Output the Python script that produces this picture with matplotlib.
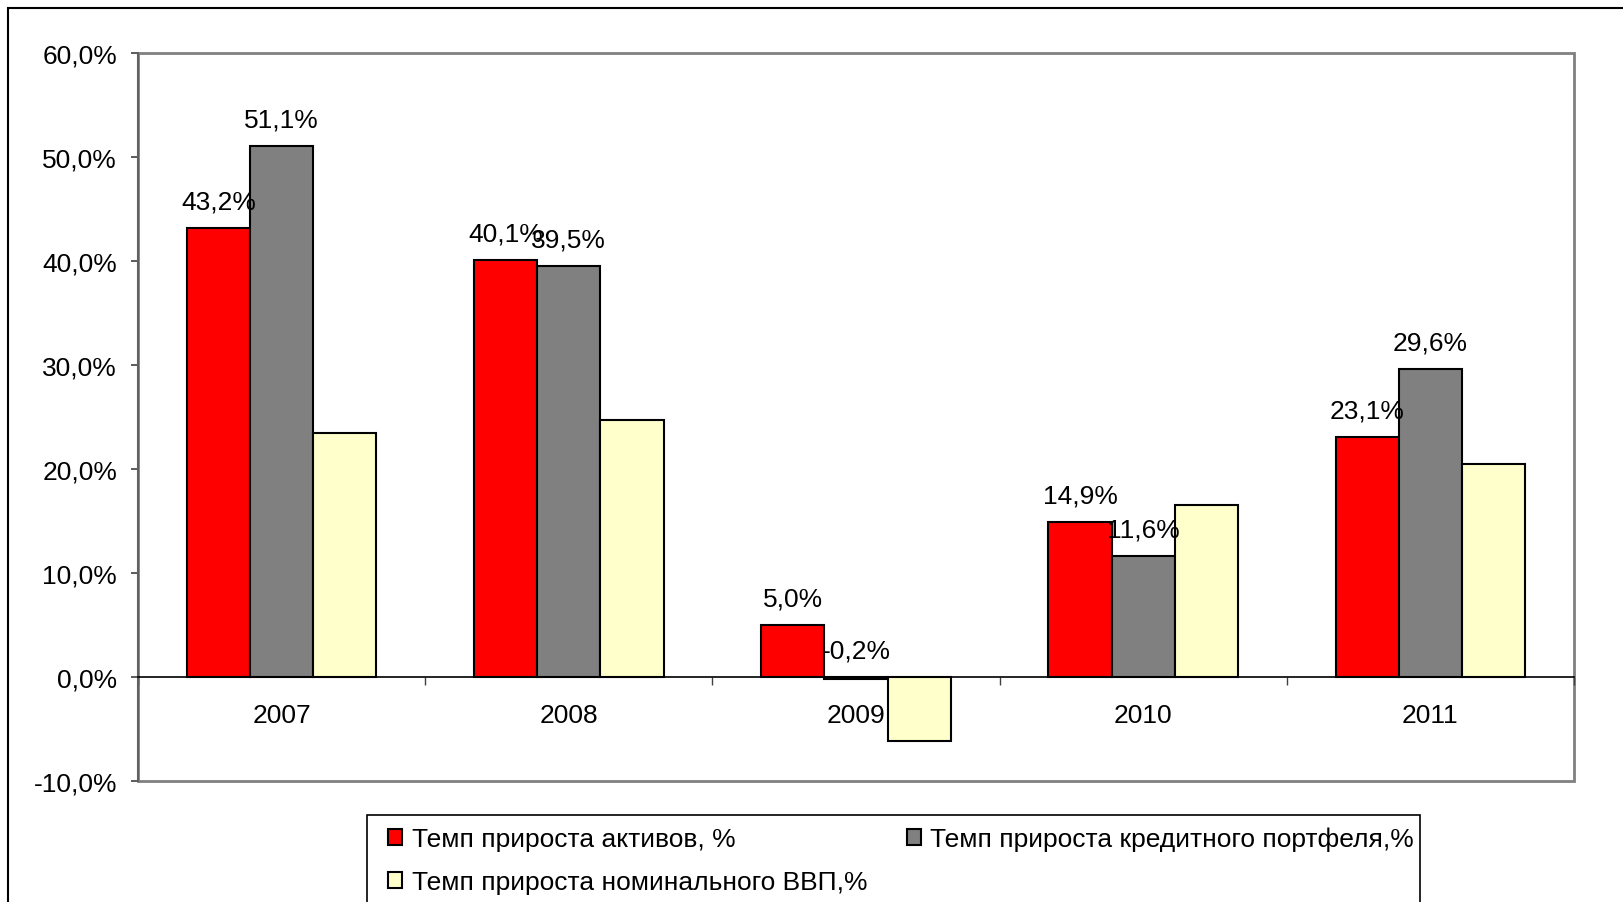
import matplotlib.pyplot as plt
from matplotlib.patches import Rectangle
import numpy as np

plt.rcParams['font.family'] = ['Liberation Sans', 'DejaVu Sans']

# Data
years = ["2007", "2008", "2009", "2010", "2011"]
assets = [43.2, 40.1, 5.0, 14.9, 23.1]
loans = [51.1, 39.5, -0.2, 11.6, 29.6]
gdp = [23.5, 24.7, -6.2, 16.5, 20.5]

series_names = ["Темп прироста активов, %",
                "Темп прироста кредитного портфеля,%",
                "Темп прироста номинального ВВП,%"]
yticks = [-10, 0, 10, 20, 30, 40, 50, 60]

FS = 19
W, H = 1623, 903
fig = plt.figure(figsize=(W / 100, H / 100), dpi=100)
ax = fig.add_axes([138 / W, 1 - 782 / H, (1574 - 138) / W, (782 - 54) / H])

x = np.arange(len(years))
bw = 0.22
b1 = ax.bar(x - bw, assets, bw, color="#ff0000", edgecolor="black", linewidth=1.5, zorder=3)
b2 = ax.bar(x, loans, bw, color="#808080", edgecolor="black", linewidth=1.5, zorder=3)
b3 = ax.bar(x + bw, gdp, bw, color="#ffffcc", edgecolor="black", linewidth=1.5, zorder=3)

def fmt(v):
    return ("%.1f%%" % v).replace(".", ",")

# value labels for the first two series
for bars, vals in ((b1, assets), (b2, loans)):
    for rect, v in zip(bars, vals):
        ax.annotate(fmt(v), (rect.get_x() + rect.get_width() / 2, max(v, 0)),
                    xytext=(0, 19), textcoords="offset points",
                    ha="center", va="center", fontsize=FS, zorder=5)

ax.set_xlim(-0.5, len(years) - 0.5)
ax.set_ylim(-10, 60)
ax.set_yticks(yticks)
ax.set_yticklabels([fmt(t) for t in yticks])

ax.set_xticks(x)
ax.set_xticklabels(years)
ax.set_xticks(np.arange(-0.5, len(years)), minor=True)
ax.tick_params(axis="x", which="major", length=0, pad=19, labelsize=FS)
ax.tick_params(axis="x", which="minor", length=6, width=1, color="#404040", direction="out")
ax.tick_params(axis="y", length=5, width=1.2, color="#404040", pad=10, labelsize=FS)

# category axis sits on zero
ax.spines["bottom"].set_position(("data", 0))
ax.spines["bottom"].set_color("black")
ax.spines["bottom"].set_linewidth(1.2)
ax.spines["bottom"].set_zorder(4)
ax.spines["left"].set_color("#606060")
ax.spines["left"].set_linewidth(1.5)
for s in ("top", "right"):
    ax.spines[s].set_visible(False)

# plot area border
ax.add_patch(Rectangle((0, 0), 1, 1, transform=ax.transAxes, fill=False,
                       edgecolor="#808080", linewidth=2, clip_on=False, zorder=1))

# chart border
fig.patches.append(Rectangle((8 / W, -0.05), 1.1, 1 - 9 / H + 0.05, transform=fig.transFigure,
                             fill=False, edgecolor="black", linewidth=1.5))

# legend box
fig.patches.append(Rectangle((367 / W, -0.05), (1420 - 367) / W, 1 - 816 / H + 0.05,
                             transform=fig.transFigure, fill=False,
                             edgecolor="black", linewidth=1.2))

leg = fig.legend([b1, b3, b2], [series_names[0], series_names[2], series_names[1]],
                 ncol=2, loc="upper left", bbox_to_anchor=(368 / W, 1 - 808 / H),
                 frameon=False, fontsize=FS, handlelength=0.55, handleheight=0.55,
                 handletextpad=0.35, labelspacing=0.72, columnspacing=1.5,
                 borderpad=0.25)

fig.savefig("out.png", dpi=100)
